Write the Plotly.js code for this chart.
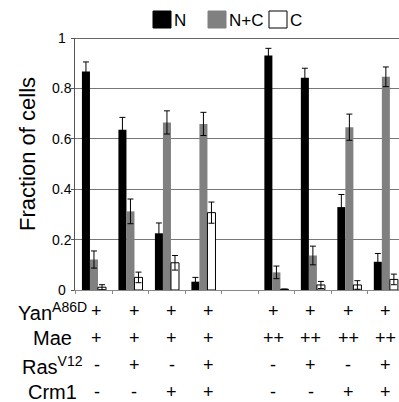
<!DOCTYPE html>
<html><head><meta charset="utf-8">
<script src="https://cdn.plot.ly/plotly-3.0.1.min.js"></script>
<style>html,body{margin:0;padding:0;background:#fff;}#c{width:399px;height:402px;}</style>
</head><body><div id="c"></div>
<script>
var categories = ['g1','g2','g3','g4','gap','g6','g7','g8','g9'];
var seriesN    = [0.867, 0.636, 0.225, 0.033, null, 0.931, 0.842, 0.329, 0.112];
var errN       = [0.038, 0.049, 0.041, 0.017, null, 0.028, 0.038, 0.050, 0.033];
var seriesNC   = [0.121, 0.312, 0.665, 0.659, null, 0.070, 0.137, 0.646, 0.846];
var errNC      = [0.034, 0.049, 0.046, 0.046, null, 0.025, 0.037, 0.052, 0.039];
var seriesC    = [0.011, 0.050, 0.108, 0.307, null, 0.003, 0.020, 0.020, 0.042];
var errC       = [0.010, 0.021, 0.029, 0.042, null, 0.000, 0.014, 0.017, 0.021];
var yTicks     = [0, 0.2, 0.4, 0.6, 0.8, 1];
var yTickText  = ['0', '0.2', '0.4', '0.6', '0.8', '1'];
var rowLabels  = ['Yan<sup>A86D</sup>', 'Mae', 'Ras<sup>V12</sup>', 'Crm1'];
var rowYan     = ['+','+','+','+','','+','+','+','+'];
var rowMae     = ['+','+','+','+','','++','++','++','++'];
var rowRas     = ['-','+','-','+','','-','+','-','+'];
var rowCrm     = ['-','-','+','+','','-','-','+','+'];
var legendNames = ['N', 'N+C', 'C'];

var W = 399, H = 402, mL = 75, mR = 0, mT = 38, mB = 112;
var pw = W - mL - mR, ph = H - mT - mB;
function px(x){ return (x - mL) / pw; }
function py(y){ return (H - mB - y) / ph; }

function eb(arr){ return {type:'data', array:arr, visible:true, color:'#000', thickness:1, width:3}; }
var traces = [
  {type:'bar', x:categories, y:seriesN, name:legendNames[0], marker:{color:'#000', line:{color:'#000', width:0}}, error_y:eb(errN)},
  {type:'bar', x:categories, y:seriesNC, name:legendNames[1], marker:{color:'#808080', line:{color:'#808080', width:0}}, error_y:eb(errNC)},
  {type:'bar', x:categories, y:seriesC, name:legendNames[2], marker:{color:'#fff', line:{color:'#000', width:1}}, error_y:eb(errC)}
];

var ann = [];
var shapes = [];
var FONT = 'Arial, Liberation Sans, sans-serif';
yTicks.forEach(function(v,i){
  ann.push({xref:'paper', yref:'y', x:px(62), y:v, text:yTickText[i], showarrow:false, xanchor:'center', yanchor:'middle', font:{family:FONT, size:14, color:'#000'}});
});
ann.push({xref:'paper', yref:'paper', x:px(27), y:py(154), text:'Fraction of cells', textangle:-90, showarrow:false, xanchor:'center', yanchor:'middle', font:{family:FONT, size:22, color:'#000'}});
var rows = [rowYan, rowMae, rowRas, rowCrm];
var rowY = [311, 338, 365, 392];
var groupShift = [3, 4, 5, 5, 0, -3, -2, -1, 0];
rows.forEach(function(r, ri){
  ann.push({xref:'paper', yref:'paper', x:px(52), y:py(rowY[ri]), text:rowLabels[ri], showarrow:false, xanchor:'center', yanchor:'middle', font:{family:FONT, size:20, color:'#000'}});
  r.forEach(function(s, ci){
    if(!s) return;
    ann.push({xref:'x', yref:'paper', x:categories[ci], y:py(rowY[ri]), xshift:groupShift[ci], text:s, showarrow:false, xanchor:'center', yanchor:'middle', font:{family:FONT, size:18, color:'#000'}});
  });
});
var legFill = ['#000', '#808080', '#fff'];
var legX = [153, 208, 269];
legendNames.forEach(function(n, i){
  shapes.push({type:'rect', xref:'paper', yref:'paper', x0:px(legX[i]), x1:px(legX[i]+18), y0:py(28), y1:py(11), fillcolor:legFill[i], line:{color: i==2 ? '#000' : legFill[i], width:1}});
  ann.push({xref:'paper', yref:'paper', x:px(legX[i]+19), y:py(20), text:n, showarrow:false, xanchor:'left', yanchor:'middle', font:{family:FONT, size:17, color:'#000'}});
});
shapes.push({type:'line', xref:'paper', yref:'y', x0:0, x1:1, y0:1, y1:1, line:{color:'#333', width:1.5}});

var layout = {
  width:W, height:H, margin:{l:mL, r:mR, t:mT, b:mB, pad:0},
  paper_bgcolor:'#fff', plot_bgcolor:'#fff',
  showlegend:false, barmode:'group', bargap:0.34, bargroupgap:0,
  xaxis:{type:'category', range:[-0.52, 8.36], showticklabels:false, tickson:'boundaries', ticks:'outside', ticklen:3, tickcolor:'#888', showline:true, linecolor:'#888', linewidth:1, showgrid:false, zeroline:false, fixedrange:true},
  yaxis:{range:[0, 1.0], tickvals:yTicks, showticklabels:false, ticks:'outside', ticklen:3, tickcolor:'#555', showline:true, linecolor:'#555', linewidth:1, showgrid:true, gridcolor:'#777', gridwidth:1, zeroline:false, fixedrange:true},
  annotations:ann, shapes:shapes,
  font:{family:FONT, color:'#000'}
};
Plotly.newPlot('c', traces, layout, {displayModeBar:false, staticPlot:true});
</script></body></html>
